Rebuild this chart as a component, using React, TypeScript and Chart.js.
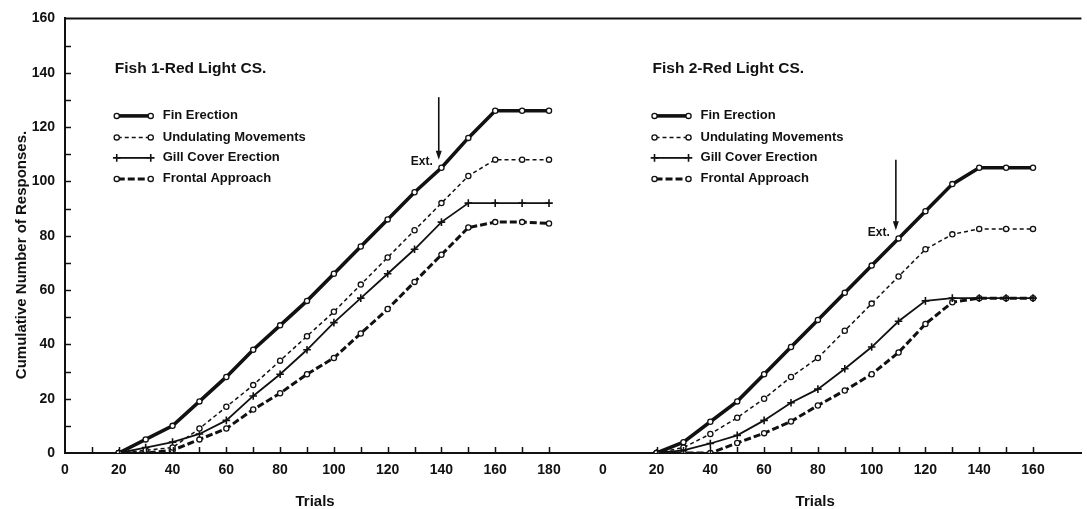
import React, { useEffect, useRef } from 'react';
import { Chart, registerables } from 'chart.js';

Chart.register(...registerables);

// ---- data ----
const PANEL2_OFFSET = 200; // second panel's trial axis is drawn after the first one
const trials1 = [20, 30, 40, 50, 60, 70, 80, 90, 100, 110, 120, 130, 140, 150, 160, 170, 180];
const fin1 = [0, 5, 10, 19, 28, 38, 47, 56, 66, 76, 86, 96, 105, 116, 126, 126, 126];
const und1 = [0, 1, 2, 9, 17, 25, 34, 43, 52, 62, 72, 82, 92, 102, 108, 108, 108];
const gill1 = [0, 2, 4, 7, 12, 21, 29, 38, 48, 57, 66, 75, 85, 92, 92, 92, 92];
const front1 = [0, 0, 1, 5, 9, 16, 22, 29, 35, 44, 53, 63, 73, 83, 85, 85, 84.5];

const trials2 = [20, 30, 40, 50, 60, 70, 80, 90, 100, 110, 120, 130, 140, 150, 160];
const fin2 = [0, 4, 11.5, 19, 29, 39, 49, 59, 69, 79, 89, 99, 105, 105, 105];
const und2 = [0, 2, 7, 13, 20, 28, 35, 45, 55, 65, 75, 80.5, 82.5, 82.5, 82.5];
const gill2 = [0, 1, 3.5, 6.5, 12, 18.5, 23.5, 31, 39, 48.5, 56, 57, 57, 57, 57];
const front2 = [0, 0, 0, 3.7, 7.3, 11.6, 17.5, 23, 29, 37, 47.5, 55.5, 57, 57, 57];

const seriesNames = ['Fin Erection', 'Undulating Movements', 'Gill Cover Erection', 'Frontal Approach'];
const panelTitles = ['Fish 1-Red Light CS.', 'Fish 2-Red Light CS.'];
const xTickLabels1 = [0, 20, 40, 60, 80, 100, 120, 140, 160, 180];
const xTickLabels2 = [0, 20, 40, 60, 80, 100, 120, 140, 160];
const minorTicks1 = [10, 20, 30, 40, 50, 60, 70, 80, 90, 100, 110, 120, 130, 140, 150, 160, 170, 180];
const minorTicks2 = [20, 30, 40, 50, 60, 70, 80, 90, 100, 110, 120, 130, 140, 150, 160];
const yMinorTicks = [10, 20, 30, 40, 50, 60, 70, 80, 90, 100, 110, 120, 130, 140, 150];
// extinction arrows: trial, top value, tip value
const extTrials = [139, 109];
const extTop = [131, 108];
const extTip = [108, 82];
const xTitle = 'Trials';
const yTitle = 'Cumulative Number of Responses.';

const INK = '#111';

type Style = { borderWidth: number; borderDash: number[]; pointStyle: string; pointRadius: number; pointBorderWidth: number };
const styles: Style[] = [
  { borderWidth: 3.6, borderDash: [], pointStyle: 'circle', pointRadius: 2.6, pointBorderWidth: 1.3 },
  { borderWidth: 1.5, borderDash: [4, 3], pointStyle: 'circle', pointRadius: 2.6, pointBorderWidth: 1.3 },
  { borderWidth: 1.8, borderDash: [], pointStyle: 'cross', pointRadius: 3.8, pointBorderWidth: 1.6 },
  { borderWidth: 3.0, borderDash: [7, 3], pointStyle: 'circle', pointRadius: 2.6, pointBorderWidth: 1.3 },
];

function drawMarker(ctx: CanvasRenderingContext2D, st: Style, x: number, y: number) {
  ctx.save();
  ctx.setLineDash([]);
  ctx.lineWidth = st.pointBorderWidth;
  ctx.strokeStyle = INK;
  ctx.fillStyle = '#fff';
  if (st.pointStyle === 'cross') {
    const r = st.pointRadius;
    ctx.beginPath();
    ctx.moveTo(x - r, y); ctx.lineTo(x + r, y);
    ctx.moveTo(x, y - r); ctx.lineTo(x, y + r);
    ctx.stroke();
  } else {
    ctx.beginPath();
    ctx.arc(x, y, st.pointRadius, 0, Math.PI * 2);
    ctx.fill();
    ctx.stroke();
  }
  ctx.restore();
}

const decor = {
  id: 'decor',
  afterDraw(chart: any) {
    const ctx: CanvasRenderingContext2D = chart.ctx;
    const { left, right, top, bottom } = chart.chartArea;
    const xs = chart.scales.x;
    const ys = chart.scales.y;
    ctx.save();
    ctx.strokeStyle = INK;
    ctx.fillStyle = INK;
    // top frame line
    ctx.lineWidth = 2;
    ctx.beginPath();
    ctx.moveTo(left, top);
    ctx.lineTo(right, top);
    ctx.stroke();
    // inside tick marks
    ctx.lineWidth = 1.5;
    const allMinor = [...minorTicks1, ...minorTicks2.map((t) => t + PANEL2_OFFSET)];
    allMinor.forEach((v) => {
      const px = Math.round(xs.getPixelForValue(v)) + 0.5;
      ctx.beginPath();
      ctx.moveTo(px, bottom);
      ctx.lineTo(px, bottom - 6);
      ctx.stroke();
    });
    yMinorTicks.forEach((v) => {
      const py = Math.round(ys.getPixelForValue(v)) + 0.5;
      ctx.beginPath();
      ctx.moveTo(left, py);
      ctx.lineTo(left + 6, py);
      ctx.stroke();
    });
    // axis titles
    ctx.font = 'bold 15px "Liberation Sans", Arial, sans-serif';
    ctx.textAlign = 'center';
    ctx.textBaseline = 'middle';
    ctx.save();
    ctx.translate(22, 255);
    ctx.rotate(-Math.PI / 2);
    ctx.fillText(yTitle, 0, 0);
    ctx.restore();
    [93, 79 + PANEL2_OFFSET].forEach((v) => {
      ctx.fillText(xTitle, xs.getPixelForValue(v), 502);
    });
    // panel titles + legends
    [0, 1].forEach((p) => {
      const sx = xs.getPixelForValue(18.5 + p * PANEL2_OFFSET);
      ctx.textAlign = 'left';
      ctx.textBaseline = 'middle';
      ctx.font = 'bold 15.5px "Liberation Sans", Arial, sans-serif';
      ctx.fillText(panelTitles[p], sx, top + 50);
      const rows = [97.5, 119, 139.5, 160.5];
      seriesNames.forEach((name, i) => {
        const st = styles[i];
        const y = top + rows[i];
        ctx.save();
        ctx.lineWidth = st.borderWidth;
        ctx.setLineDash(st.borderDash);
        ctx.beginPath();
        ctx.moveTo(sx + 3, y);
        ctx.lineTo(sx + 34, y);
        ctx.stroke();
        ctx.restore();
        drawMarker(ctx, st, sx + 2, y);
        drawMarker(ctx, st, sx + 36, y);
        ctx.font = 'bold 13px "Liberation Sans", Arial, sans-serif';
        ctx.fillText(name, sx + 48, y);
      });
    });
    // extinction arrows
    extTrials.forEach((t, i) => {
      const px = xs.getPixelForValue(t + i * PANEL2_OFFSET);
      const y0 = ys.getPixelForValue(extTop[i]);
      const y1 = ys.getPixelForValue(extTip[i]);
      ctx.lineWidth = 1.6;
      ctx.setLineDash([]);
      ctx.beginPath();
      ctx.moveTo(px, y0);
      ctx.lineTo(px, y1 - 6);
      ctx.stroke();
      ctx.beginPath();
      ctx.moveTo(px - 3, y1 - 9);
      ctx.lineTo(px, y1);
      ctx.lineTo(px + 3, y1 - 9);
      ctx.closePath();
      ctx.fill();
      ctx.font = 'bold 12px "Liberation Sans", Arial, sans-serif';
      ctx.textAlign = 'right';
      ctx.textBaseline = 'middle';
      ctx.fillText('Ext.', px - 6, y1 + 2);
    });
    ctx.restore();
  },
};

export default function App() {
  const ref = useRef<HTMLCanvasElement>(null);
  useEffect(() => {
    const canvas = ref.current;
    if (!canvas) return;
    const mk = (tr: number[], vals: number[], off: number) => tr.map((t, i) => ({ x: t + off, y: vals[i] }));
    const panels = [
      { tr: trials1, vals: [fin1, und1, gill1, front1], off: 0 },
      { tr: trials2, vals: [fin2, und2, gill2, front2], off: PANEL2_OFFSET },
    ];
    const datasets: any[] = [];
    panels.forEach((p) => {
      p.vals.forEach((v, i) => {
        const st = styles[i];
        datasets.push({
          label: seriesNames[i],
          data: mk(p.tr, v, p.off),
          borderColor: INK,
          borderWidth: st.borderWidth,
          borderDash: st.borderDash,
          pointStyle: st.pointStyle,
          pointRadius: st.pointRadius,
          pointBorderWidth: st.pointBorderWidth,
          pointBackgroundColor: '#fff',
          pointBorderColor: INK,
          tension: 0,
          fill: false,
        });
      });
    });
    const xTickValues = [...xTickLabels1, ...xTickLabels2.map((t) => t + PANEL2_OFFSET)];
    const chart = new Chart(canvas, {
      type: 'line',
      data: { datasets },
      options: {
        animation: false,
        responsive: false,
        maintainAspectRatio: false,
        layout: { padding: { top: 16, right: 0, left: 0, bottom: 0 } },
        plugins: { legend: { display: false }, tooltip: { enabled: false } },
        scales: {
          x: {
            type: 'linear',
            min: 0,
            max: 378,
            afterBuildTicks: (scale: any) => {
              scale.ticks = xTickValues.map((v) => ({ value: v }));
            },
            afterFit: (scale: any) => {
              scale.height = 56;
            },
            grid: { display: false, drawTicks: false },
            border: { display: true, color: INK, width: 2 },
            ticks: {
              padding: 9,
              color: INK,
              maxRotation: 0,
              autoSkip: false,
              font: { family: '"Liberation Sans", Arial, sans-serif', size: 14, weight: 'bold' },
              callback: (v: any) => String(v >= PANEL2_OFFSET ? v - PANEL2_OFFSET : v),
            },
          },
          y: {
            type: 'linear',
            min: 0,
            max: 160,
            afterFit: (scale: any) => {
              scale.width = 65;
            },
            grid: { display: false, drawTicks: false },
            border: { display: true, color: INK, width: 2 },
            ticks: {
              stepSize: 20,
              padding: 10,
              color: INK,
              font: { family: '"Liberation Sans", Arial, sans-serif', size: 14, weight: 'bold' },
            },
          },
        },
      },
      plugins: [decor],
    } as any);
    return () => chart.destroy();
  }, []);
  return (
    <div style={{ position: 'absolute', left: 0, top: 0, width: 1087, height: 509, background: '#fff' }}>
      <canvas ref={ref} width={1087} height={509} />
    </div>
  );
}
